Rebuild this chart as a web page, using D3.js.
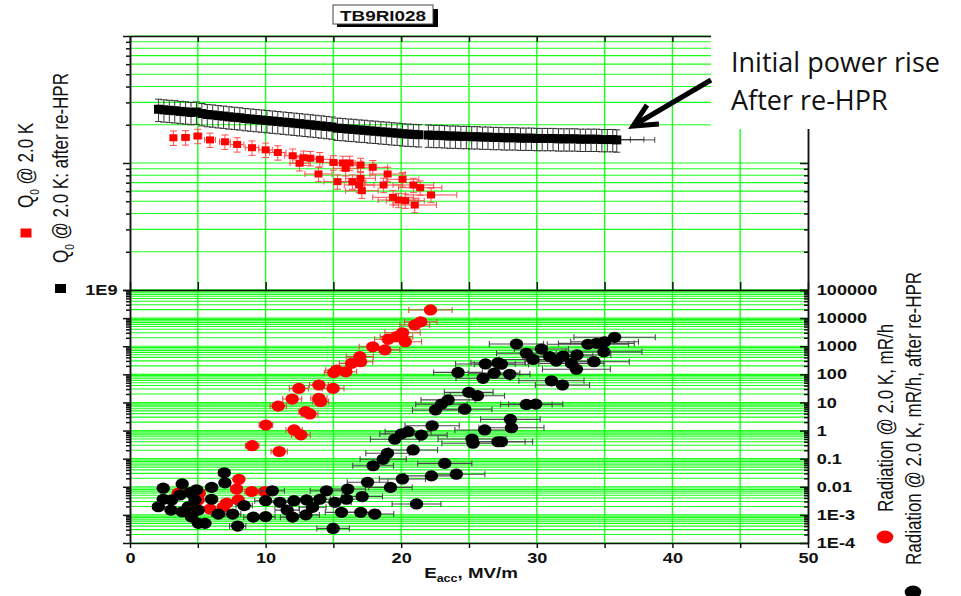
<!DOCTYPE html>
<html>
<head>
<meta charset="utf-8">
<script src="https://cdn.jsdelivr.net/npm/d3@7"></script>
<style>
  body { margin: 0; background: #fff; }
  svg { display: block; }
  text { font-family: "Liberation Sans", Arial, sans-serif; }
  text.note { font-family: "Open Sans", Lato, sans-serif; }
</style>
</head>
<body>
<div id="chart"></div>
<script>
// ---- data ----
// Q0 @ 2.0 K (red squares)
const q0E = [3.2, 4.1, 5.0, 5.9, 7.0, 7.9, 9.0, 10.0, 10.9, 12.0, 12.5, 12.8, 13.3, 14.0, 13.9, 15.0, 15.7, 15.9,
  16.2, 15.3, 16.4, 17.0, 17.0, 16.9, 17.1, 17.9, 19.0, 18.7, 20.1, 19.4, 19.8, 20.3, 20.9, 21.4, 21.0, 22.2];
const q0Q = [15.8e9, 15.9e9, 16.3e9, 15.2e9, 14.7e9, 14.0e9, 13.2e9, 12.7e9, 12.1e9, 11.4e9, 9.95e9, 11.0e9,
  10.9e9, 10.7e9, 8.19e9, 10.1e9, 10.0e9, 9.08e9, 10.0e9, 7.13e9, 7.13e9, 9.64e9, 7.58e9, 6.71e9, 6.05e9, 9.25e9,
  8.19e9, 6.71e9, 7.44e9, 5.37e9, 5.11e9, 5.05e9, 6.71e9, 6.39e9, 4.67e9, 5.60e9];
const q0Ex = [0.2, 0.3, 0.3, 0.4, 0.4, 0.5, 0.5, 0.5, 0.6, 0.6, 0.7, 0.7, 0.7, 0.8, 1.0, 0.8, 0.9, 0.9, 0.9, 1.0,
  1.0, 1.0, 1.1, 1.1, 1.2, 1.1, 1.3, 1.4, 1.2, 1.5, 1.5, 1.4, 1.5, 1.6, 1.6, 1.9];
const q0QerrFrac = 0.13;

// Q0 @ 2.0 K after re-HPR (black squares)
const q0HprE = [2.1, 2.5, 2.9, 3.3, 3.7, 4.1, 4.5, 4.9, 5.3, 5.7, 6.1, 6.5, 6.9, 7.3, 7.7, 8.1, 8.5, 8.9, 9.3, 9.7,
  10.1, 10.5, 10.9, 11.3, 11.7, 12.1, 12.5, 12.9, 13.3, 13.7, 14.1, 14.5, 14.9, 15.3, 15.7, 16.1, 16.5, 16.9, 17.3,
  17.7, 18.1, 18.5, 18.9, 19.3, 19.7, 20.1, 20.5, 20.9, 21.3, 22.0, 22.4, 22.8, 23.2, 23.6, 24.0, 24.4, 24.8, 25.2,
  25.6, 26.0, 26.4, 26.8, 27.2, 27.6, 28.0, 28.4, 28.8, 29.2, 29.6, 30.0, 30.4, 30.8, 31.2, 31.6, 32.0, 32.4, 32.8,
  33.2, 33.6, 34.0, 34.4, 34.8, 35.2, 35.6, 35.9];
const q0HprQ = [2.65e10, 2.62e10, 2.60e10, 2.58e10, 2.55e10, 2.53e10, 2.50e10, 2.52e10, 2.45e10, 2.41e10, 2.39e10,
  2.36e10, 2.34e10, 2.31e10, 2.29e10, 2.27e10, 2.24e10, 2.22e10, 2.20e10, 2.18e10, 2.16e10, 2.14e10, 2.12e10,
  2.10e10, 2.08e10, 2.06e10, 2.04e10, 2.02e10, 2.00e10, 1.98e10, 1.96e10, 1.94e10, 1.92e10, 1.88e10, 1.87e10,
  1.85e10, 1.84e10, 1.82e10, 1.81e10, 1.79e10, 1.78e10, 1.76e10, 1.75e10, 1.73e10, 1.72e10, 1.70e10, 1.69e10,
  1.68e10, 1.67e10, 1.66e10, 1.65e10, 1.65e10, 1.64e10, 1.63e10, 1.63e10, 1.62e10, 1.62e10, 1.61e10, 1.61e10,
  1.60e10, 1.60e10, 1.59e10, 1.59e10, 1.58e10, 1.58e10, 1.58e10, 1.57e10, 1.57e10, 1.57e10, 1.56e10, 1.56e10,
  1.56e10, 1.56e10, 1.55e10, 1.55e10, 1.55e10, 1.55e10, 1.54e10, 1.54e10, 1.54e10, 1.54e10, 1.53e10, 1.53e10,
  1.53e10, 1.52e10];
const q0HprEx = [0.2, 0.2, 0.2, 0.2, 0.2, 0.2, 0.2, 0.2, 0.2, 0.2, 0.2, 0.2, 0.2, 0.2, 0.2, 0.2, 0.2, 0.2, 0.2, 0.2,
  0.2, 0.2, 0.2, 0.2, 0.2, 0.2, 0.2, 0.2, 0.2, 0.2, 0.2, 0.2, 0.2, 0.2, 0.2, 0.2, 0.2, 0.2, 0.2, 0.2, 0.2, 0.2,
  0.2, 0.2, 0.2, 0.2, 0.2, 0.2, 0.2, 0.3, 0.3, 0.3, 0.3, 0.3, 0.3, 0.3, 0.3, 0.3, 0.3, 0.3, 0.3, 0.3, 0.3, 0.3,
  0.3, 0.3, 0.3, 0.3, 0.3, 0.3, 0.3, 0.3, 0.3, 0.3, 0.3, 0.3, 0.3, 0.4, 0.4, 0.6, 0.9, 1.3, 1.7, 2.3, 2.8];
const q0HprQerrFrac = 0.2;

// Radiation @ 2.0 K, mR/h (red circles)
const radE = [22.16, 21.44, 21.0, 20.1, 19.65, 19.04, 20.3, 18.8, 17.9, 16.95, 17.0, 16.34, 15.92, 15.23, 15.03,
  13.93, 14.98, 12.45, 11.96, 13.93, 14.05, 10.93, 12.95, 13.26, 10.02, 12.1, 12.6, 9.01, 11.0, 8.03, 7.86, 8.97,
  9.95, 5.1, 3.56, 5.03, 7.12, 7.98, 5.9, 6.88];
const radR = [19500, 7400, 5700, 3020, 2190, 1780, 1450, 740, 955, 427, 282, 245, 123, 141, 115, 41.7, 31.6, 31.6,
  13.2, 14.1, 10.7, 7.4, 4.7, 3.9, 1.57, 1.05, 0.70, 0.29, 0.18, 0.0184, 0.0083, 0.0068, 0.0068, 0.0059, 0.0059,
  0.0034, 0.0026, 0.0034, 0.0016, 0.0019];
const radEx = [1.6, 1.2, 1.1, 1.3, 1.2, 1.0, 1.2, 1.1, 1.0, 1.0, 0.9, 0.9, 0.8, 0.8, 0.7, 0.7, 0.8, 0.7, 0.7, 0.6,
  0.6, 0.6, 0.5, 0.6, 0.5, 0.6, 0.7, 0.5, 0.6, 0.3, 0.4, 0.5, 0.5, 0.4, 0.4, 0.3, 0.4, 0.4, 0.3, 0.3];

// Radiation @ 2.0 K, mR/h, after re-HPR (black circles)
const radHprE = [35.74, 35.0, 34.39, 33.77, 34.95, 28.5, 30.34, 29.23, 29.72, 30.95, 31.44, 31.93, 32.96, 32.55,
  32.92, 34.22, 28.0, 27.39, 31.08, 31.89, 29.23, 29.92, 28.05, 28.13, 27.39, 26.21, 27.14, 24.19, 26.04, 26.85,
  24.98, 25.62, 23.46, 22.97, 22.53, 24.69, 22.28, 26.16, 25.22, 25.30, 27.14, 20.51, 20.02, 19.53, 21.49, 20.88,
  18.99, 18.67, 17.93, 23.21, 24.07, 22.23, 20.09, 17.52, 19.21, 21.13, 16.06, 14.49, 17.12, 15.97, 15.11, 14.0,
  13.02, 12.09, 11.05, 10.0, 10.49, 15.6, 17.02, 18.05, 13.46, 12.97, 11.99, 11.59, 10.0, 9.09, 8.42, 7.57, 6.51,
  7.94, 14.98, 6.95, 7.0, 6.02, 6.02, 4.91, 4.42, 3.85, 2.45, 2.45, 2.09, 3.07, 3.02, 3.68, 3.85, 4.30, 4.54, 5.04,
  5.53, 4.79, 5.04];
const radHprR = [2075, 1445, 1260, 1175, 631, 1200, 794, 562, 339, 427, 295, 447, 490, 245, 151, 282, 100, 229, 58.9,
  41.7, 8.5, 8.7, 2.5, 1.26, 0.40, 234, 257, 117, 72.4, 110, 22.9, 17.4, 12.3, 8.7, 5.4, 5.75, 1.48, 1.05, 0.50,
  0.355, 0.40, 0.91, 0.76, 0.49, 0.69, 0.204, 0.155, 0.095, 0.056, 0.068, 0.028, 0.0245, 0.019, 0.0145, 0.0095,
  0.00245, 0.0083, 0.0072, 0.0045, 0.0036, 0.0028, 0.0036, 0.0034, 0.0032, 0.0028, 0.0032, 0.0072, 0.00123,
  0.00123, 0.00107, 0.00186, 0.0010, 0.00083, 0.00148, 0.00087, 0.00083, 0.00214, 0.00107, 0.00107, 0.0004,
  0.00033, 0.0316, 0.0138, 0.0095, 0.0036, 0.0078, 0.0062, 0.0126, 0.0089, 0.0036, 0.00195, 0.0034, 0.00148,
  0.0051, 0.00129, 0.00195, 0.00083, 0.0005, 0.0005, 0.0034, 0.00148];
const radHprEx = [3.0, 2.5, 2.8, 3.0, 2.8, 2.0, 2.0, 2.2, 2.5, 2.0, 2.3, 2.2, 2.5, 2.4, 2.5, 2.6, 1.5, 2.0, 2.4, 2.0,
  1.9, 2.0, 2.2, 2.4, 2.3, 2.2, 2.0, 1.8, 2.0, 1.9, 1.8, 2.0, 2.0, 1.9, 1.7, 2.0, 2.0, 2.2, 2.5, 2.3, 2.0, 1.7, 1.6,
  1.8, 1.9, 1.8, 1.6, 1.7, 1.5, 2.0, 2.1, 2.0, 1.7, 1.5, 1.6, 1.8, 1.3, 1.2, 1.5, 1.2, 1.2, 1.0, 1.0, 0.9, 0.8, 0.8,
  0.9, 1.2, 1.3, 1.4, 1.0, 1.0, 0.9, 0.9, 0.7, 0.7, 0.6, 0.6, 0.5, 0.6, 1.2, 0.4, 0.4, 0.4, 0.4, 0.4, 0.3, 0.3, 0.3,
  0.3, 0.3, 0.3, 0.3, 0.3, 0.3, 0.3, 0.3, 0.3, 0.3, 0.3, 0.3];

// tick labels
const radTickLabels = ['1E-4', '1E-3', '0.01', '0.1', '1', '10', '100', '1000', '10000', '100000'];
const q0TickLabels = ['1E9', '', ''];

// ---- layout ----
const width = 961, height = 596;
const plotL = 130, plotR = 808, topT = 36, midY = 290, botB = 543;
const stretch = 1.25;
const green = '#19ff19';

const svg = d3.select('#chart').append('svg').attr('width', width).attr('height', height);

const x = d3.scaleLinear().domain([0, 50]).range([plotL, plotR]);
const yQ = d3.scaleLog().domain([1e9, 1e11]).range([midY, topT]);
const yR = d3.scaleLog().domain([1e-4, 1e5]).range([botB, midY]);

const isMajor = d => Math.abs(Math.log10(d) - Math.round(Math.log10(d))) < 1e-9;

// grid
const grid = svg.append('g');
const xGrid = x.ticks(10).filter(v => v > 0 && v < 50);
[[yQ, topT, midY], [yR, midY, botB]].forEach(([ys, y0, y1]) => {
    grid.append('g').selectAll('line').data(ys.ticks()).join('line')
        .attr('x1', plotL).attr('x2', plotR)
        .attr('y1', d => ys(d)).attr('y2', d => ys(d))
        .attr('stroke', green).attr('stroke-width', 1.1);
    grid.append('g').selectAll('line').data(xGrid).join('line')
        .attr('x1', d => x(d)).attr('x2', d => x(d))
        .attr('y1', y0).attr('y2', y1)
        .attr('stroke', green).attr('stroke-width', 1.4);
});

// error bars helpers
function xErr(g, E, V, err, ys, color, cap, sw) {
    g.append('g').selectAll('path').data(E).join('path')
        .attr('d', (e, i) => {
            const y = ys(V[i]), a = x(e - err[i]), b = x(e + err[i]);
            return `M${a},${y}H${b}M${a},${y - cap}V${y + cap}M${b},${y - cap}V${y + cap}`;
        })
        .attr('fill', 'none').attr('stroke', color).attr('stroke-width', sw);
}
function yErr(g, E, V, frac, ys, color, cap, sw) {
    g.append('g').selectAll('path').data(E).join('path')
        .attr('d', (e, i) => {
            const cx = x(e), a = ys(V[i] * (1 + frac)), b = ys(V[i] * (1 - frac));
            return `M${cx},${a}V${b}M${cx - cap},${a}H${cx + cap}M${cx - cap},${b}H${cx + cap}`;
        })
        .attr('fill', 'none').attr('stroke', color).attr('stroke-width', sw);
}

const marks = svg.append('g');

// top panel: Q0
xErr(marks, q0HprE, q0HprQ, q0HprEx, yQ, '#222', 3, 0.8);
yErr(marks, q0HprE, q0HprQ, q0HprQerrFrac, yQ, '#222', 3.5, 0.9);
marks.append('g').selectAll('rect').data(q0HprE).join('rect')
    .attr('x', d => x(d) - 4.5).attr('y', (d, i) => yQ(q0HprQ[i]) - 4.5)
    .attr('width', 9).attr('height', 9).attr('fill', '#000');

xErr(marks, q0E, q0Q, q0Ex, yQ, '#ff4d4d', 3, 1);
yErr(marks, q0E, q0Q, q0QerrFrac, yQ, '#ff4d4d', 3.5, 1);
marks.append('g').selectAll('rect').data(q0E).join('rect')
    .attr('x', d => x(d) - 4).attr('y', (d, i) => yQ(q0Q[i]) - 3.5)
    .attr('width', 8).attr('height', 7).attr('fill', '#ff0000');

// bottom panel: radiation
xErr(marks, radE, radR, radEx, yR, '#d0563c', 3, 1.1);
marks.append('g').selectAll('ellipse').data(radE).join('ellipse')
    .attr('cx', d => x(d)).attr('cy', (d, i) => yR(radR[i]))
    .attr('rx', 6.7).attr('ry', 5.6).attr('fill', '#ff0000');

xErr(marks, radHprE, radHprR, radHprEx, yR, '#4a4a4a', 3, 1.1);
marks.append('g').selectAll('ellipse').data(radHprE).join('ellipse')
    .attr('cx', d => x(d)).attr('cy', (d, i) => yR(radHprR[i]))
    .attr('rx', 6.7).attr('ry', 5.6).attr('fill', '#000');

// axes
function styleAxis(g) {
    g.selectAll('path, line').attr('stroke', '#111').attr('stroke-width', 1.5);
    g.selectAll('text').attr('font-size', 14.5).attr('font-weight', 'bold').attr('fill', '#111')
        .attr('transform', `scale(${stretch},1)`);
}
const axes = svg.append('g');
[[yQ, q0TickLabels], [yR, null]].forEach(([ys, labels]) => {
    const all = ys.ticks();
    const majors = all.filter(isMajor), minors = all.filter(d => !isMajor(d));
    axes.append('g').attr('transform', `translate(${plotL},0)`)
        .call(d3.axisLeft(ys).tickValues(minors).tickSize(4).tickSizeOuter(0).tickFormat(''))
        .call(styleAxis);
    axes.append('g').attr('transform', `translate(${plotL},0)`)
        .call(d3.axisLeft(ys).tickValues(majors).tickSize(7).tickSizeOuter(0)
            .tickFormat((d, i) => labels ? labels[i] : ''))
        .call(styleAxis);
    axes.append('g').attr('transform', `translate(${plotR},0)`)
        .call(d3.axisRight(ys).tickValues(minors).tickSize(-4).tickSizeOuter(0).tickFormat(''))
        .call(styleAxis);
    axes.append('g').attr('transform', `translate(${plotR},0)`)
        .call(d3.axisRight(ys).tickValues(majors).tickSize(-8).tickSizeOuter(0).tickPadding(7)
            .tickFormat((d, i) => labels ? '' : radTickLabels[i]))
        .call(styleAxis);
});
const xTicks = x.ticks(10);
axes.append('g').attr('transform', `translate(0,${botB})`)
    .call(d3.axisBottom(x).tickValues(xTicks).tickSize(5).tickPadding(5).tickSizeOuter(0)
        .tickFormat(d => d % 10 === 0 ? d : ''))
    .call(styleAxis);
axes.append('g').attr('transform', `translate(0,${midY})`)
    .call(d3.axisBottom(x).tickValues(xTicks).tickSize(-8).tickSizeOuter(0).tickFormat(''))
    .call(styleAxis);
axes.append('g').attr('transform', `translate(0,${topT})`)
    .call(d3.axisBottom(x).tickValues(xTicks).tickSize(6).tickSizeOuter(0).tickFormat(''))
    .call(styleAxis);

// x axis title
const xt = svg.append('text')
    .attr('transform', `translate(${x(25) + 2},578) scale(${stretch},1)`)
    .attr('text-anchor', 'middle').attr('font-size', 15).attr('font-weight', 'bold').attr('fill', '#111');
xt.append('tspan').text('E');
xt.append('tspan').attr('font-size', 10).attr('dy', 4).text('acc');
xt.append('tspan').attr('dy', -4).text(', MV/m');

// white box behind the annotation
svg.append('rect').attr('x', 711).attr('y', 0).attr('width', width - 711).attr('height', 129).attr('fill', '#fff');

// title box
svg.append('rect').attr('x', 337).attr('y', 9).attr('width', 101).attr('height', 18).attr('fill', '#000');
svg.append('rect').attr('x', 333).attr('y', 5).attr('width', 100).attr('height', 19)
    .attr('fill', '#fff').attr('stroke', '#444').attr('stroke-width', 1);
svg.append('text').attr('transform', `translate(383,21) scale(1.26,1)`)
    .attr('text-anchor', 'middle').attr('font-size', 15).attr('font-weight', 'bold').attr('fill', '#111')
    .text('TB9RI028');

// side legends (rotated)
function sideLabel(tx, ty, parts) {
    const t = svg.append('text')
        .attr('transform', `translate(${tx},${ty}) scale(${stretch},1) rotate(-90)`)
        .attr('font-size', 17).attr('fill', '#111');
    parts.forEach(p => {
        const s = t.append('tspan').text(p.text);
        if (p.sub) s.attr('font-size', 10).attr('dy', 5);
        if (p.after) s.attr('dy', -5);
    });
}
sideLabel(33, 208, [{ text: 'Q' }, { text: '0', sub: true }, { text: ' @ 2.0 K', after: true }]);
sideLabel(68, 263, [{ text: 'Q' }, { text: '0', sub: true }, { text: ' @ 2.0 K: after re-HPR', after: true }]);
svg.append('rect').attr('x', 20.5).attr('y', 228.5).attr('width', 11).attr('height', 9).attr('fill', '#ff0000');
svg.append('rect').attr('x', 55).attr('y', 284).attr('width', 11).attr('height', 9).attr('fill', '#000');

sideLabel(893, 512, [{ text: 'Radiation @ 2.0 K, mR/h' }]);
sideLabel(921, 565, [{ text: 'Radiation @ 2.0 K, mR/h, after re-HPR' }]);
svg.append('ellipse').attr('cx', 885).attr('cy', 537).attr('rx', 8.3).attr('ry', 6.5).attr('fill', '#ff0000');
svg.append('ellipse').attr('cx', 913).attr('cy', 592).attr('rx', 8.3).attr('ry', 6.5).attr('fill', '#000');

// annotation
svg.append('text').attr('class', 'note').attr('x', 731).attr('y', 72)
    .attr('font-size', 27).attr('fill', '#111').text('Initial power rise');
svg.append('text').attr('class', 'note').attr('x', 731).attr('y', 110)
    .attr('font-size', 27).attr('fill', '#111').text('After re-HPR');
svg.append('path').attr('d', 'M711,80L636,124').attr('stroke', '#000').attr('stroke-width', 5).attr('fill', 'none');
svg.append('path').attr('d', 'M647,105L633,126L659,124')
    .attr('stroke', '#000').attr('stroke-width', 5).attr('fill', 'none').attr('stroke-linejoin', 'miter');
</script>
</body>
</html>
